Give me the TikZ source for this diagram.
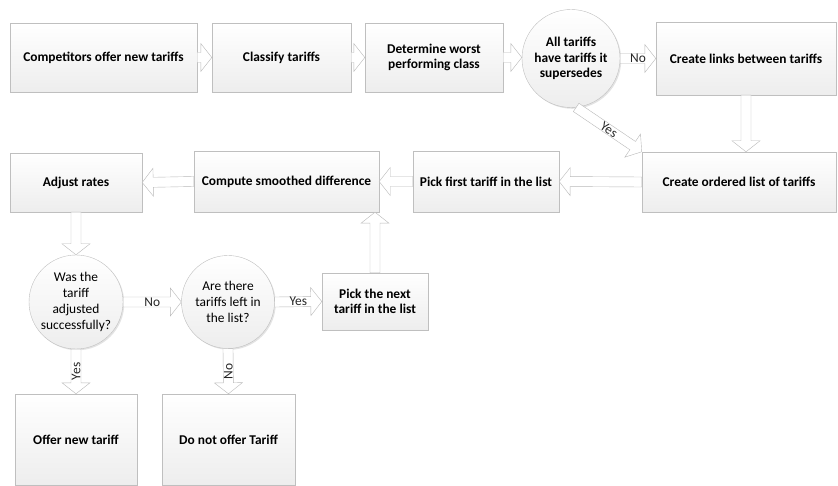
\documentclass[tikz,border=0pt]{standalone}
\usepackage{fontspec}
\setmainfont{Carlito}[Scale=1.34]
\usetikzlibrary{positioning, calc, shadows}

\tikzset{
  proc/.style={draw=gray!50, top color=white, bottom color=gray!14,
    drop shadow={shadow xshift=1.3pt, shadow yshift=-1.3pt, opacity=.22},
    font=\fontsize{10}{15.5}\selectfont\bfseries, align=center, inner sep=2pt},
  decide/.style={proc, circle, minimum size=#1, inner sep=0pt},
  lbl/.style={inner sep=1pt, text=black!85},
  flow/.style={draw=gray!55, fill=white, line join=miter,
    to path={let \p1=(\tikztostart), \p2=(\tikztotarget),
      \n1={atan2(\y2-\y1,\x2-\x1)}, \n2={veclen(\x2-\x1,\y2-\y1)} in
      {[shift={(\p1)}, rotate=\n1]
        (0pt,-5pt) -- (\n2-11pt,-5pt) -- (\n2-11pt,-14pt) -- (\n2,0pt)
        -- (\n2-11pt,14pt) -- (\n2-11pt,5pt) -- (0pt,5pt) -- cycle}}},
}

\begin{document}
\begin{tikzpicture}[x=1pt, y=-1pt]
    \useasboundingbox (0,0) rectangle (838,486);
    % Top row
    \node[proc, minimum width=187pt, minimum height=69pt] (comp) at (103.5,57.5) {Competitors offer new tariffs};
    \node[proc, minimum width=139pt, minimum height=69pt] (classify) at (281.5,57.5) {Classify tariffs};
    \node[proc, minimum width=138pt, minimum height=69pt] (worst) at (434,57.5) {Determine worst\\performing class};
    \node[decide=98pt] (supersede) at (571,58.5) {All tariffs\\have tariffs it\\supersedes};
    \node[proc, minimum width=180pt, minimum height=73pt] (links) at (746,58.5) {Create links between tariffs};
    % Middle row
    \node[proc, minimum width=194pt, minimum height=60pt] (ordered) at (739,182) {Create ordered list of tariffs};
    \node[proc, minimum width=146pt, minimum height=61pt] (pickfirst) at (486,181.5) {Pick first tariff in the list};
    \node[proc, minimum width=185pt, minimum height=61pt] (compute) at (286.5,181.5) {Compute smoothed difference};
    \node[proc, minimum width=132pt, minimum height=59pt] (adjust) at (76,182.5) {Adjust rates};
    % Decisions
    \node[decide=94pt, font=\fontsize{10}{16}\selectfont] (adjusted) at (76,302) {Was the\\tariff\\adjusted\\successfully?};
    \node[decide=93pt, font=\fontsize{10}{16}\selectfont] (left) at (228,302) {Are there\\tariffs left in\\the list?};
    \node[proc, minimum width=106pt, minimum height=57pt] (picknext) at (375,301.5) {Pick the next\\tariff in the list};
    % Bottom row
    \node[proc, minimum width=122pt, minimum height=91pt] (offer) at (76,439.5) {Offer new tariff};
    \node[proc, minimum width=133pt, minimum height=91pt] (notoffer) at (228.5,439.5) {Do not offer Tariff};

    % Block arrows
    \draw[flow] (comp.east) to (classify.west);
    \draw[flow] (classify.east) to (worst.west);
    \draw[flow] (worst.east) to (worst.east -| supersede.west);
    \draw[flow] (supersede.east) to (links.west);
    \draw[flow] (supersede.-84) to (ordered.north west);
    \draw[flow] (links.south) to (links.south |- ordered.north);
    \draw[flow] (ordered.west) to (pickfirst.east);
    \draw[flow] (pickfirst.west) to (compute.east);
    \draw[flow] (compute.west) to (adjust.east);
    \draw[flow] (adjust.south) to (adjusted.north);
    \draw[flow] (adjusted.east) to (left.west);
    \draw[flow] (left.east) to (picknext.west);
    \draw[flow] (picknext.north) to (picknext.north |- compute.south);
    \draw[flow] (adjusted.south) to (offer.north);
    \draw[flow] (left.south) to (notoffer.north);

    % Labels on arrows
    \path (supersede.east) -- (links.west) node[lbl, midway] {No};
    \path (supersede.-84) -- (ordered.north west) node[lbl, midway, sloped] {Yes};
    \path (adjusted.east) -- (left.west) node[lbl, midway] {No};
    \path (left.east) -- (picknext.west) node[lbl, midway] {Yes};
    \path (adjusted.south) -- (offer.north) node[lbl, midway, rotate=90] {Yes};
    \path (left.south) -- (notoffer.north) node[lbl, midway, rotate=90] {No};
\end{tikzpicture}
\end{document}
